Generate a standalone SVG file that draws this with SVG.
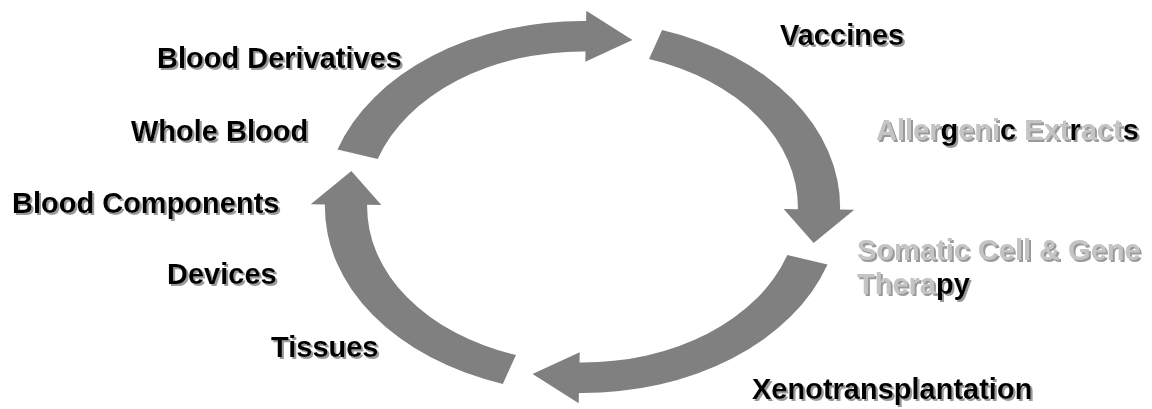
<svg xmlns="http://www.w3.org/2000/svg" xmlns:xlink="http://www.w3.org/1999/xlink" width="1152" height="409" viewBox="0 0 1152 409">
<style>
.lbl{font-family:"Liberation Sans",Arial,sans-serif;font-weight:bold;font-size:29px;filter:url(#shadow)}
.fg{fill:#000}
.lg{fill:#c4c4c4}
.arr{fill:#808080}
</style>
<defs>
<filter id="shadow" x="-5%" y="-30%" width="110%" height="160%">
<feOffset in="SourceAlpha" dx="2" dy="2" result="o"/>
<feFlood flood-color="#9a9a9a"/>
<feComposite in2="o" operator="in" result="s"/>
<feMerge><feMergeNode in="s"/><feMergeNode in="SourceGraphic"/></feMerge>
</filter>
<path id="ca" d="M176.90,57.48 A186,186 0 0 1 -2.597,185.98 L-2.740,196.23 L-36.08,166.89 L-2.028,145.24 L-2.171,155.48 A155.5,155.5 0 0 0 147.89,48.05 Z"/>
</defs>
<rect width="1152" height="409" fill="#fff"/>
<g id="connectors" class="arr">
<use xlink:href="#ca" transform="translate(582.5,207) scale(1.385,1)"/>
<use xlink:href="#ca" transform="translate(582.5,207) scale(1.385,1) rotate(90)"/>
<use xlink:href="#ca" transform="translate(582.5,207) scale(1.385,1) rotate(180)"/>
<use xlink:href="#ca" transform="translate(582.5,207) scale(1.385,1) rotate(270)"/>
</g>
<g id="vaccines" class="lbl">
<text class="fg" x="780" y="45">Vaccines</text>
</g>
<g id="blood-derivatives" class="lbl">
<text class="fg" x="157" y="68">Blood Derivatives</text>
</g>
<g id="whole-blood" class="lbl">
<text class="fg" x="131" y="141">Whole Blood</text>
</g>
<g id="allergenic-extracts" class="lbl">
<text x="876" y="140"><tspan class="lg">Aller</tspan><tspan class="fg">g</tspan><tspan class="lg">eni</tspan><tspan class="fg">c</tspan><tspan class="lg"> Ext</tspan><tspan class="fg">r</tspan><tspan class="lg">act</tspan><tspan class="fg">s</tspan></text>
</g>
<g id="blood-components" class="lbl">
<text class="fg" x="12" y="213">Blood Components</text>
</g>
<g id="somatic-cell-gene-therapy" class="lbl">
<text class="lg" x="857" y="260">Somatic Cell &amp; Gene</text>
<text x="857" y="294"><tspan class="lg">Thera</tspan><tspan class="fg">py</tspan></text>
</g>
<g id="devices" class="lbl">
<text class="fg" x="167" y="284">Devices</text>
</g>
<g id="tissues" class="lbl">
<text class="fg" x="271" y="357">Tissues</text>
</g>
<g id="xenotransplantation" class="lbl">
<text class="fg" x="752" y="399">Xenotransplantation</text>
</g>
</svg>
